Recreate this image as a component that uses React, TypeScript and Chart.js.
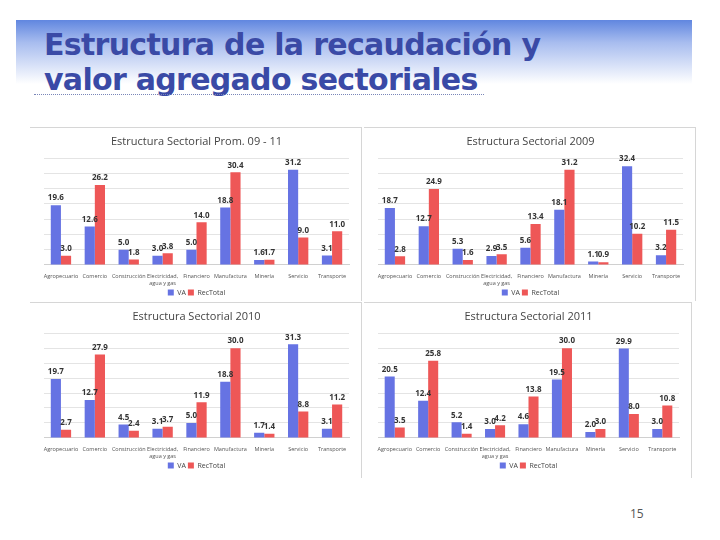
import React, { useEffect, useRef } from "react";
import { Chart, registerables } from "chart.js";

Chart.register(...registerables);

const categories: (string | string[])[] = [
  "Agropecuario",
  "Comercio",
  "Construcción",
  ["Electricidad,", "agua y gas"],
  "Financiero",
  "Manufactura",
  "Minería",
  "Servicio",
  "Transporte",
];

const seriesNames = ["VA", "RecTotal"];

const vaProm = [19.6, 12.6, 5.0, 3.0, 5.0, 18.8, 1.6, 31.2, 3.1];
const recProm = [3.0, 26.2, 1.8, 3.8, 14.0, 30.4, 1.7, 9.0, 11.0];

const va2009 = [18.7, 12.7, 5.3, 2.9, 5.6, 18.1, 1.1, 32.4, 3.2];
const rec2009 = [2.8, 24.9, 1.6, 3.5, 13.4, 31.2, 0.9, 10.2, 11.5];

const va2010 = [19.7, 12.7, 4.5, 3.1, 5.0, 18.8, 1.7, 31.3, 3.1];
const rec2010 = [2.7, 27.9, 2.4, 3.7, 11.9, 30.0, 1.4, 8.8, 11.2];

const va2011 = [20.5, 12.4, 5.2, 3.0, 4.6, 19.5, 2.0, 29.9, 3.0];
const rec2011 = [3.5, 25.8, 1.4, 4.2, 13.8, 30.0, 3.0, 8.0, 10.8];

const chartTitles = [
  "Estructura Sectorial Prom. 09 - 11",
  "Estructura Sectorial 2009",
  "Estructura Sectorial 2010",
  "Estructura Sectorial 2011",
];

const BLUE = "#6673e3";
const RED = "#ee5757";
const FONT = "'Open Sans', 'Liberation Sans', sans-serif";

const valueLabels = {
  id: "valueLabels",
  afterDatasetsDraw(chart: any) {
    const ctx = chart.ctx;
    ctx.save();
    ctx.font = `bold 8px ${FONT}`;
    ctx.fillStyle = "#333";
    ctx.textAlign = "center";
    ctx.textBaseline = "bottom";
    chart.data.datasets.forEach((ds: any, i: number) => {
      const meta = chart.getDatasetMeta(i);
      meta.data.forEach((bar: any, j: number) => {
        ctx.fillText(Number(ds.data[j]).toFixed(1), bar.x, bar.y - 3);
      });
    });
    ctx.restore();
  },
};

function SectorChart(props: { title: string; va: number[]; rec: number[]; extra: number; box: { left: number; top: number; width: number; height: number } }) {
  const ref = useRef<HTMLCanvasElement>(null);
  useEffect(() => {
    if (!ref.current) return;
    const chart = new Chart(ref.current, {
      type: "bar",
      data: {
        labels: categories,
        datasets: [
          { label: seriesNames[0], data: props.va, backgroundColor: BLUE, categoryPercentage: 0.6, barPercentage: 1.0 },
          { label: seriesNames[1], data: props.rec, backgroundColor: RED, categoryPercentage: 0.6, barPercentage: 1.0 },
        ],
      },
      options: {
        animation: false,
        responsive: false,
        maintainAspectRatio: false,
        layout: { padding: { left: 14, right: 12, top: 4, bottom: 2 } },
        plugins: {
          title: {
            display: true,
            text: props.title,
            color: "#444",
            font: { family: FONT, size: 11, weight: "normal" },
            padding: { top: 3, bottom: 10 },
          },
          legend: {
            position: "bottom",
            labels: {
              boxWidth: 6,
              boxHeight: 6,
              color: "#444",
              font: { family: FONT, size: 7 },
              padding: 2,
            },
          },
          tooltip: { enabled: false },
        },
        scales: {
          x: {
            grid: { display: false },
            border: { color: "#d0d0d0" },
            ticks: { color: "#555", font: { family: FONT, size: 5.5, lineHeight: 1.1 }, maxRotation: 0, autoSkip: false, padding: 1 },
          },
          y: {
            min: 0,
            max: 35,
            ticks: { display: false, stepSize: 5 },
            border: { display: false },
            grid: { color: "#e4e4e4", drawTicks: false },
          },
        },
      },
      plugins: [valueLabels],
    });
    return () => chart.destroy();
  }, []);
  const b = props.box;
  return (
    <div style={{ position: "absolute", left: b.left, top: b.top, width: b.width, height: b.height, borderTop: "1px solid #d6d6d6", borderRight: "1px solid #d6d6d6", boxSizing: "border-box" }}>
      <canvas ref={ref} width={b.width - 1} height={b.height - 1 + props.extra} style={{ display: "block" }} />
    </div>
  );
}

export default function App() {
  return (
    <div style={{ position: "relative", width: 720, height: 540, margin: -8, background: "#fff", overflow: "hidden", fontFamily: FONT }}>
      <div
        style={{
          position: "absolute",
          left: 16,
          top: 20,
          width: 676,
          height: 64,
          background: "linear-gradient(to bottom, rgba(88,128,222,0.95) 0%, rgba(130,160,232,0.7) 35%, rgba(255,255,255,0) 100%)",
        }}
      />
      <div
        style={{
          position: "absolute",
          left: 44,
          top: 27,
          color: "#3a4aa6",
          fontFamily: "'DejaVu Sans', Verdana, sans-serif",
          fontWeight: "bold",
          fontSize: 30,
          lineHeight: "35px",
          letterSpacing: -0.7,
        }}
      >
        <div>Estructura de la recaudación y</div>
        <div>valor agregado sectoriales</div>
      </div>
      <div style={{ position: "absolute", left: 34, top: 94, width: 450, borderTop: "1px dotted #7a86b8" }} />
      <SectorChart title={chartTitles[0]} va={vaProm} rec={recProm} extra={7} box={{ left: 30, top: 127, width: 332, height: 174 }} />
      <SectorChart title={chartTitles[1]} va={va2009} rec={rec2009} extra={7} box={{ left: 364, top: 127, width: 332, height: 174 }} />
      <div style={{ position: "absolute", left: 30, top: 302, width: 666, height: 180, background: "#fff" }} />
      <SectorChart title={chartTitles[2]} va={va2010} rec={rec2010} extra={3} box={{ left: 30, top: 302, width: 332, height: 176 }} />
      <SectorChart title={chartTitles[3]} va={va2011} rec={rec2011} extra={3} box={{ left: 364, top: 302, width: 328, height: 176 }} />
      <div style={{ position: "absolute", left: 630, top: 505, fontSize: 12, color: "#555" }}>15</div>
    </div>
  );
}
